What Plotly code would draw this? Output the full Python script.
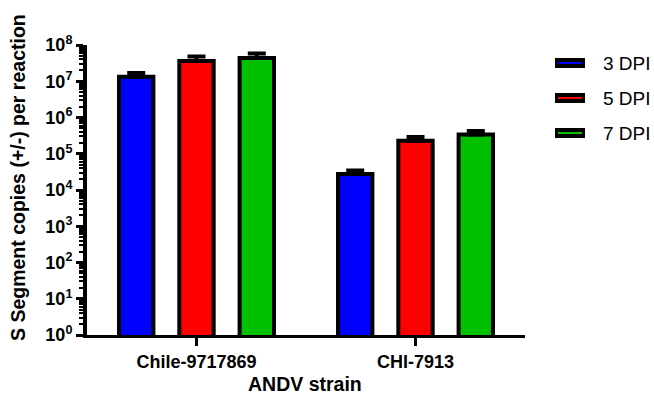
import plotly.graph_objects as go

categories = ["Chile-9717869", "CHI-7913"]
series_names = ["3 DPI", "5 DPI", "7 DPI"]
dpi3 = [1.33e7, 2.75e4]
dpi5 = [3.6e7, 2.3e5]
dpi7 = [4.4e7, 3.4e5]
err3 = [3.7e6, 7.0e3]
err5 = [1.2e7, 6.0e4]
err7 = [1.4e7, 8.5e4]
tick_vals = [10 ** i for i in range(9)]
tick_text = ["10<sup>%d</sup>" % i for i in range(9)]

colors = ["#0000FF", "#FF0000", "#00C000"]
values = [dpi3, dpi5, dpi7]
errors = [err3, err5, err7]

FONT = "Liberation Sans, Arial, sans-serif"

# plot area in page pixels: x 87..525, y 45..335
PL, PR, PT, PB = 87, 525, 45, 335
W, H = 654, 402


def px(x):
    return (x - PL) / (PR - PL)


def py(y):
    return (PB - y) / (PB - PT)


fig = go.Figure()
for name, vals, errs, col in zip(series_names, values, errors, colors):
    fig.add_trace(go.Bar(
        x=categories, y=vals, name=name,
        marker=dict(color=col, line=dict(color="black", width=4)),
        error_y=dict(type="data", array=errs, arrayminus=[0] * len(errs),
                     symmetric=False, color="black", thickness=4, width=9),
    ))

shapes = []
annotations = []
legend_y = [63, 98, 133]
for name, col, ly in zip(series_names, colors, legend_y):
    shapes.append(dict(type="rect", xref="paper", yref="paper",
                       x0=px(555), x1=px(585), y0=py(ly + 5), y1=py(ly - 5),
                       fillcolor="black", line=dict(width=0)))
    shapes.append(dict(type="line", xref="paper", yref="paper",
                       x0=px(558), x1=px(582), y0=py(ly), y1=py(ly),
                       line=dict(color=col, width=2)))
    annotations.append(dict(text=name, xref="paper", yref="paper",
                            x=px(601), y=py(ly), xanchor="left", yanchor="middle",
                            showarrow=False,
                            font=dict(family=FONT, size=19, color="black")))

annotations.append(dict(
    text="<b>S Segment copies (+/-) per reaction</b>", textangle=-90,
    xref="paper", yref="paper", x=px(18), y=py(178),
    xanchor="center", yanchor="middle", showarrow=False,
    font=dict(family=FONT, size=19.5, color="black"),
))
annotations.append(dict(
    text="<b>ANDV strain</b>",
    xref="paper", yref="paper", x=px(305), y=py(384),
    xanchor="center", yanchor="middle", showarrow=False,
    font=dict(family=FONT, size=19.5, color="black"),
))

fig.update_layout(
    width=W, height=H,
    margin=dict(l=PL, r=W - PR, t=PT, b=H - PB, autoexpand=False),
    paper_bgcolor="white", plot_bgcolor="white",
    barmode="group", bargap=0.174, bargroupgap=0.43,
    font=dict(family=FONT, color="black"),
    showlegend=False,
    shapes=shapes,
    annotations=annotations,
    xaxis=dict(
        range=[-0.5, 1.5], showline=True, linecolor="black", linewidth=3,
        ticks="outside", ticklen=8, tickwidth=3, tickcolor="black",
        tickfont=dict(family=FONT, size=18, color="black", weight="bold"),
        showgrid=False, zeroline=False,
    ),
    yaxis=dict(
        type="log", range=[0, 8], showline=True, linecolor="black", linewidth=4,
        tickvals=tick_vals, ticktext=tick_text,
        ticks="outside", ticklen=7, tickwidth=3, tickcolor="black",
        tickfont=dict(family=FONT, size=18, color="black", weight="bold"),
        minor=dict(ticks="outside", ticklen=4, tickwidth=1.5, tickcolor="black", dtick="D1", showgrid=False),
        showgrid=False, zeroline=False,
    ),
)

fig.write_html(
    "out.html",
    config={"displayModeBar": False},
    post_script="document.body.style.margin='0';document.body.style.overflow='hidden';",
)
